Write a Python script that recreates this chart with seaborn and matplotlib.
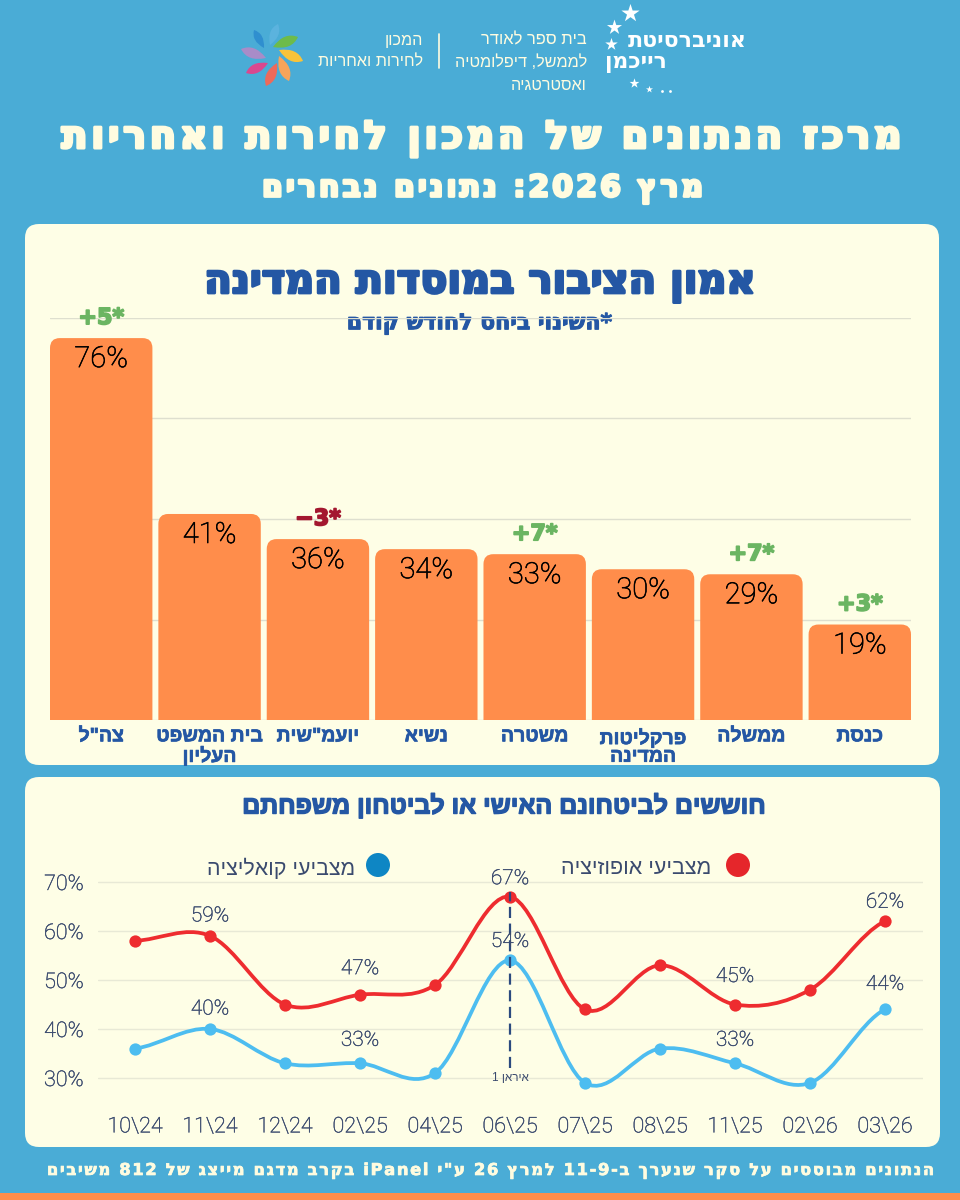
import re
import numpy as np
import pandas as pd
import seaborn as sns
import matplotlib
matplotlib.use('Agg')
import matplotlib.pyplot as plt
from matplotlib.patches import FancyBboxPatch, Circle, PathPatch
from matplotlib.path import Path
import matplotlib.patheffects as pe

sns.set_theme(style='white')
plt.rcParams['font.family'] = ['Liberation Sans', 'DejaVu Sans']

# Données du graphique en barres
institutions = ['צה"ל', 'בית המשפט\nהעליון', 'יועמ"שית', 'נשיא', 'משטרה', 'פרקליטות\nהמדינה', 'ממשלה', 'כנסת']
trust = [76, 41, 36, 34, 33, 30, 29, 19]
trust_change = ['+5*', '', '−3*', '', '+7*', '', '+7*', '+3*']

# Données des courbes
months = ['10\\24', '11\\24', '12\\24', '02\\25', '04\\25', '06\\25', '07\\25', '08\\25', '11\\25', '02\\26', '03\\26']
opposition = [58, 59, 45, 47, 49, 67, 44, 53, 45, 48, 62]
coalition = [36, 40, 33, 33, 31, 54, 29, 36, 33, 29, 44]
opposition_labels = ['', '59%', '', '47%', '', '67%', '', '', '45%', '', '62%']
coalition_labels = ['', '40%', '', '33%', '', '54%', '', '', '33%', '', '44%']

# Décalage des étiquettes au-dessus des points (pixels)
opposition_offsets = [0, 20, 0, 26, 0, 18, 0, 0, 28, 0, 19]
coalition_offsets = [0, 20, 0, 23, 0, 19, 0, 0, 23, 0, 25]

BG = '#4AACD6'
PANEL = '#FEFEE6'
CREAM = '#FFFCE0'
ORANGE = '#FF8D4B'
BLUE = '#2457A4'
NAVY = '#3A4A6E'
RED_LINE = '#EE2C2F'
BLUE_LINE = '#4DBDF0'


def visual(s):
    # matplotlib n'a pas de bidi : on remet l'hébreu dans l'ordre d'affichage
    out = []
    for line in s.split('\n'):
        out.append(''.join(re.findall(r'[A-Za-z0-9]+|.', line)[::-1]))
    return '\n'.join(out)


fig = plt.figure(figsize=(9.6, 12), dpi=100, facecolor=BG)
renderer = fig.canvas.get_renderer()

# Fond en coordonnées pixels
bg = fig.add_axes([0, 0, 1, 1])
bg.set_xlim(0, 960)
bg.set_ylim(1200, 0)
bg.axis('off')
bg.add_patch(FancyBboxPatch((25, 224), 914, 541, boxstyle='round,pad=0,rounding_size=14', fc=PANEL, ec='none'))
bg.add_patch(FancyBboxPatch((25, 777), 915, 370, boxstyle='round,pad=0,rounding_size=14', fc=PANEL, ec='none'))
bg.add_patch(FancyBboxPatch((-10, 1193), 980, 30, boxstyle='round,pad=0,rounding_size=5', fc=ORANGE, ec='none'))


def put(s, x, y, width=None, size=12, ha='center', spacing=False, stroke=0, **kw):
    txt = visual(s)
    if spacing:
        txt = '\u200a'.join(txt)
    t = bg.text(x, y, txt, ha=ha, va='center', fontsize=size, **kw)
    if width:
        t.set_fontsize(size * width / t.get_window_extent(renderer).width)
    if stroke:
        t.set_path_effects([pe.withStroke(linewidth=stroke, foreground=kw.get('color'))])
    return t


# En-tête
heavy = dict(family='DejaVu Sans', fontweight='bold')
narrow = dict(family='Liberation Sans', fontweight='bold')
put('מרכז הנתונים של המכון לחירות ואחריות', 481, 139, width=838, spacing=True, color=CREAM, stroke=2.2, **heavy)
put('מרץ 2026: נתונים נבחרים', 482, 189, width=440, spacing=True, color=CREAM, stroke=2, **heavy)
put('אוניברסיטת', 747, 41, width=119, ha='right', color='white', **heavy)
put('רייכמן', 667, 63, width=62, ha='right', color='white', **heavy)
for s, y, w in [('בית ספר לאודר', 40, 106), ('לממשל, דיפלומטיה', 62, 132), ('ואסטרטגיה', 85, 76)]:
    put(s, 587, y, width=w, ha='right', color=CREAM)
for s, y, w in [('המכון', 40, 38), ('לחירות ואחריות', 62, 105)]:
    put(s, 423, y, width=w, ha='right', color=CREAM)
bg.plot([439, 439], [34, 68], color=CREAM, lw=1.2)

# Logos
for x, y, s in [(630, 13, 190), (614, 27, 130), (611, 44, 90), (634, 83, 55), (649, 89, 28)]:
    bg.scatter(x, y, s=s, marker='*', color='white', linewidths=0)
bg.scatter([662, 670], [91, 91], s=4, color='white', linewidths=0)
petals = [((273, 47), (298, 37), '#6DBB4B'), ((279, 50), (303, 61), '#F8C33A'),
          ((279, 56), (289, 81), '#F7A45A'), ((277, 63), (266, 86), '#EE6A5A'),
          ((268, 63), (246, 73), '#D9488F'), ((266, 58), (241, 49), '#A88CC8'),
          ((264, 48), (254, 30), '#2F8FCF'), ((270, 45), (278, 24), '#5BB3DE')]
for (x0, y0), (x1, y1), c in petals:
    nx, ny = -(y1 - y0) * 0.38, (x1 - x0) * 0.38
    verts = [(x0, y0), (x0 + (x1 - x0) * 0.6 + nx, y0 + (y1 - y0) * 0.6 + ny), (x1, y1),
             (x0 + (x1 - x0) * 0.6 - nx, y0 + (y1 - y0) * 0.6 - ny), (x0, y0)]
    bg.add_patch(PathPatch(Path(verts, [Path.MOVETO, Path.CURVE3, Path.CURVE3, Path.CURVE3, Path.CURVE3]), fc=c, ec='none'))

# Titres des panneaux
put('אמון הציבור במוסדות המדינה', 480, 283, width=552, color=BLUE, stroke=2, **heavy)
put('*השינוי ביחס לחודש קודם', 480, 324, width=265, color=BLUE, stroke=0.8, **heavy)
put('חוששים לביטחונם האישי או לביטחון משפחתם', 504, 806, width=522, color=BLUE, stroke=1, **narrow)
put('הנתונים מבוססים על סקר שנערך ב-9-11 למרץ 26 ע"י iPanel בקרב מדגם מייצג של 812 משיבים',
    491, 1171, width=884, spacing=True, color=CREAM, stroke=0.5, **heavy)


def axes_px(x0, y0, x1, y1):
    ax = fig.add_axes([x0 / 960, 1 - y1 / 1200, (x1 - x0) / 960, (y1 - y0) / 1200])
    ax.patch.set_alpha(0)
    return ax


# Graphique en barres
ax1 = axes_px(50, 318, 911, 720)
df_bars = pd.DataFrame({'institution': [visual(s) for s in institutions], 'trust': trust})
sns.barplot(data=df_bars, x='institution', y='trust', color=ORANGE, saturation=1, width=0.945, ax=ax1)
for p in list(ax1.patches):
    x, w, h = p.get_x(), p.get_width(), p.get_height()
    p.remove()
    ax1.add_patch(FancyBboxPatch((x, -6), w, h + 6, boxstyle='round,pad=0,rounding_size=0.09',
                                 mutation_aspect=22, fc=ORANGE, ec='none', zorder=3))
ax1.set_xlim(-0.4725, 7.4725)
ax1.set_ylim(0, 80)
ax1.set_yticks([0, 20, 40, 60, 80])
ax1.set_yticklabels([])
ax1.yaxis.grid(True, color='#DEDFCF', lw=1)
ax1.set_axisbelow(True)
ax1.set_xlabel('')
ax1.set_ylabel('')
sns.despine(ax=ax1, left=True, bottom=True, top=True, right=True)
ax1.tick_params(axis='x', length=0, pad=6)
for lab in ax1.get_xticklabels():
    lab.set_family('Liberation Sans')
    lab.set_fontweight('bold')
    lab.set_fontsize(14)
    lab.set_color(BLUE)
    lab.set_linespacing(1.05)
    lab.set_path_effects([pe.withStroke(linewidth=0.5, foreground=BLUE)])
for i, (v, c) in enumerate(zip(trust, trust_change)):
    t = ax1.annotate(f'{v}%', (i, v), xytext=(0, -21), textcoords='offset pixels', ha='center', va='center',
                     fontsize=21, family='Roboto', fontweight='light', color='black', zorder=4)
    t.set_path_effects([pe.withStroke(linewidth=0.45, foreground='black')])
    if c:
        col = '#A3172F' if c.startswith('−') else '#6BB562'
        t = ax1.annotate(c, (i, v), xytext=(0, 20), textcoords='offset pixels', ha='center', va='center',
                         fontsize=16, fontweight='bold', family='DejaVu Sans', color=col, zorder=4)
        t.set_path_effects([pe.withStroke(linewidth=1.3, foreground=col)])

# Courbes : légende
bg.add_patch(Circle((738, 865), 12, fc='#E5262B', ec='none'))
bg.add_patch(Circle((378, 865), 12, fc='#0E86C4', ec='none'))
put('מצביעי אופוזיציה', 711, 868, width=149, ha='right', color=NAVY)
put('מצביעי קואליציה', 355, 868, width=147, ha='right', color=NAVY)

ax2 = axes_px(97.5, 857.5, 922.5, 1102.5)


def smooth(values, color):
    # Courbe de Bézier qui passe par les valeurs (tangentes Catmull-Rom)
    n = len(values)
    tang = [(values[min(i + 1, n - 1)] - values[max(i - 1, 0)]) / 2 for i in range(n)]
    verts = [(0, values[0])]
    for i in range(n - 1):
        verts += [(i + 1 / 3, values[i] + tang[i] / 3), (i + 2 / 3, values[i + 1] - tang[i + 1] / 3), (i + 1, values[i + 1])]
    codes = [Path.MOVETO] + [Path.CURVE4] * (len(verts) - 1)
    ax2.add_patch(PathPatch(Path(verts, codes), fc='none', ec=color, lw=2.7, capstyle='round', zorder=3))


for vals, col in [(opposition, RED_LINE), (coalition, BLUE_LINE)]:
    smooth(vals, col)
    sns.scatterplot(x=months, y=vals, color=col, s=78, linewidth=0, zorder=4, ax=ax2)

ax2.vlines(5, 32, 68, color='#2B4A7F', lw=1.6, linestyles=(0, (5, 2.5)), zorder=5)
ax2.annotate(visual('איראן 1'), (5, 30), ha='center', va='center', fontsize=8.5, color=NAVY,
             family='Liberation Sans', zorder=6)

ax2.set_xlim(-0.5, 10.5)
ax2.set_ylim(25, 75)
ax2.set_yticks([30, 40, 50, 60, 70])
ax2.set_yticklabels(['30%', '40%', '50%', '60%', '70%'])
ax2.yaxis.grid(True, color='#E8E9D6', lw=1)
ax2.set_axisbelow(True)
sns.despine(ax=ax2, left=True, bottom=True, top=True, right=True)
ax2.tick_params(axis='both', length=0, labelsize=15.5, labelcolor=NAVY)
ax2.tick_params(axis='y', pad=10)
ax2.tick_params(axis='x', pad=10)
for lab in ax2.get_xticklabels() + ax2.get_yticklabels():
    lab.set_family('Roboto')
    lab.set_fontweight('light')
    lab.set_path_effects([pe.withStroke(linewidth=0.3, foreground=NAVY)])

for vals, labels, offsets in [(opposition, opposition_labels, opposition_offsets),
                              (coalition, coalition_labels, coalition_offsets)]:
    for i, (v, s, off) in enumerate(zip(vals, labels, offsets)):
        if s:
            t = ax2.annotate(s, (i, v), xytext=(0, off), textcoords='offset pixels', ha='center', va='center',
                             fontsize=15, family='Roboto', fontweight='light', color=NAVY, zorder=6)
            t.set_path_effects([pe.withStroke(linewidth=0.3, foreground=NAVY)])

plt.savefig('out.png', dpi=100, facecolor=BG)
